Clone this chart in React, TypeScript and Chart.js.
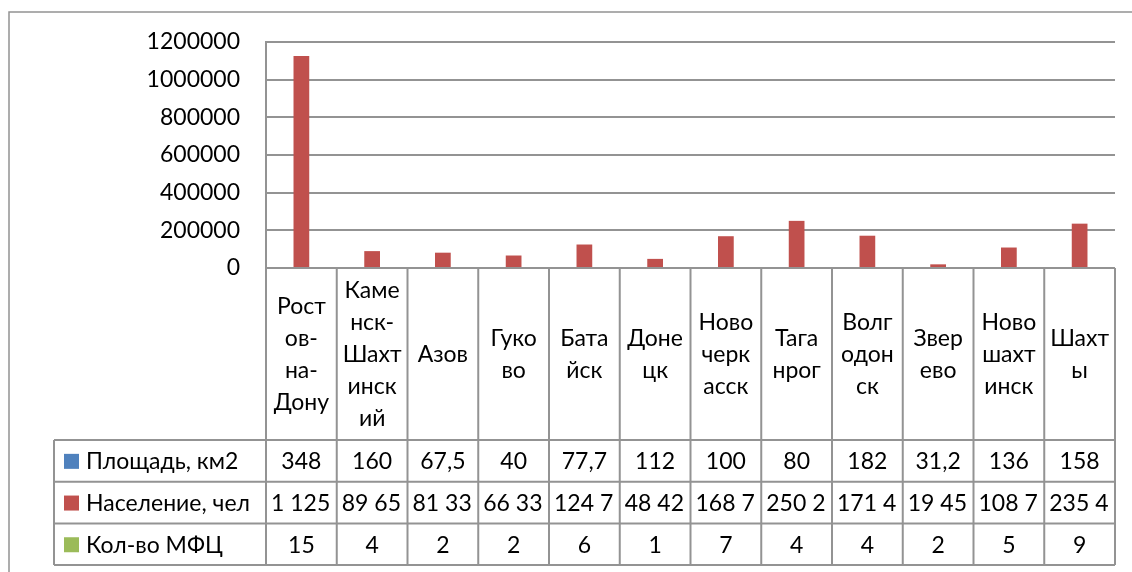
import React, { useEffect, useRef } from "react";
import { Chart, registerables } from "chart.js";

Chart.register(...registerables);

// ---- Data ----
const categories: string[][] = [
  ["Рост", "ов-", "на-", "Дону"],
  ["Каме", "нск-", "Шахт", "инск", "ий"],
  ["Азов"],
  ["Гуко", "во"],
  ["Бата", "йск"],
  ["Доне", "цк"],
  ["Ново", "черк", "асск"],
  ["Тага", "нрог"],
  ["Волг", "одон", "ск"],
  ["Звер", "ево"],
  ["Ново", "шахт", "инск"],
  ["Шахт", "ы"],
];

const seriesNames = ["Площадь, км2", "Население, чел", "Кол-во МФЦ"];

const areaKm2 = [348, 160, 67.5, 40, 77.7, 112, 100, 80, 182, 31.2, 136, 158];
const population = [
  1125299, 89652, 81334, 66335, 124710, 48423, 168766, 250287, 171434, 19451,
  108740, 235492,
];
const mfcCount = [15, 4, 2, 2, 6, 1, 7, 4, 4, 2, 5, 9];

const yMin = 0;
const yMax = 1200000;
const yStep = 200000;

const seriesColors = ["#4F81BD", "#C0504D", "#9BBB59"];

// ---- Styles ----
const FONT = "Lato";
const FONT_SIZE = 23;
const LINE_COLOR = "#939393";
const LINE_W = 2;
const HEADER_BOTTOM = 440;
const ROW_H = 41.7;
const TABLE_LEFT = 54;
const LINE_H = 32;

function fmt(v: number, seriesIdx: number): string {
  if (seriesIdx === 1) {
    const s = Math.round(v).toString();
    return s.replace(/\B(?=(\d{3})+(?!\d))/g, " ");
  }
  return String(v).replace(".", ",");
}

const tablePlugin = {
  id: "dataTable",
  afterDraw(chart: any) {
    const { ctx, chartArea, scales } = chart;
    const xs = scales.x;
    const n = categories.length;
    const left = chartArea.left;
    const right = chartArea.right;
    const cw = (right - left) / n;
    const headerTop = chartArea.bottom;
    const series = [areaKm2, population, mfcCount];
    const tableBottom = HEADER_BOTTOM + ROW_H * series.length;

    ctx.save();
    // outer chart border
    ctx.strokeStyle = LINE_COLOR;
    ctx.lineWidth = 1.5;
    ctx.beginPath();
    ctx.moveTo(9, 700);
    ctx.lineTo(9, 12);
    ctx.lineTo(1200, 12);
    ctx.stroke();

    // table lines
    ctx.lineWidth = LINE_W;
    ctx.beginPath();
    for (let i = 0; i <= n; i++) {
      const xx = left + i * cw;
      ctx.moveTo(xx, headerTop);
      ctx.lineTo(xx, tableBottom);
    }
    ctx.moveTo(TABLE_LEFT, HEADER_BOTTOM);
    ctx.lineTo(TABLE_LEFT, tableBottom);
    for (let r = 0; r <= series.length; r++) {
      const yy = HEADER_BOTTOM + r * ROW_H;
      ctx.moveTo(TABLE_LEFT, yy);
      ctx.lineTo(right, yy);
    }
    ctx.moveTo(left, headerTop);
    ctx.lineTo(right, headerTop);
    ctx.stroke();

    ctx.fillStyle = "#000";
    ctx.font = `${FONT_SIZE}px ${FONT}`;
    ctx.textBaseline = "middle";
    ctx.textAlign = "center";

    // header labels
    const headerMid = (headerTop + HEADER_BOTTOM) / 2;
    categories.forEach((lines, i) => {
      const cx = xs.getPixelForValue(i);
      const startY = headerMid - ((lines.length - 1) * LINE_H) / 2;
      lines.forEach((ln, k) => {
        ctx.fillText(ln, cx, startY + k * LINE_H + 1);
      });
    });

    // rows
    series.forEach((vals, r) => {
      const cy = HEADER_BOTTOM + r * ROW_H + ROW_H / 2 + 1;
      // legend key
      ctx.fillStyle = seriesColors[r];
      ctx.fillRect(64, cy - 8, 15, 15);
      ctx.fillStyle = "#000";
      ctx.textAlign = "left";
      ctx.fillText(seriesNames[r], 86, cy);
      vals.forEach((v, i) => {
        const cx = xs.getPixelForValue(i);
        const cellL = left + i * cw;
        const txt = fmt(v, r);
        const maxW = cw - 9;
        if (ctx.measureText(txt).width <= maxW) {
          ctx.textAlign = "center";
          ctx.fillText(txt, cx, cy);
        } else {
          let t = txt;
          while (t.length > 0 && ctx.measureText(t).width > maxW) t = t.slice(0, -1);
          ctx.textAlign = "left";
          ctx.fillText(t, cellL + 5, cy);
        }
      });
    });
    ctx.restore();
  },
};

export default function App() {
  const ref = useRef<HTMLCanvasElement | null>(null);

  useEffect(() => {
    if (!ref.current) return;
    Chart.defaults.font.family = FONT;
    Chart.defaults.font.size = FONT_SIZE;
    Chart.defaults.color = "#000";
    const chart = new Chart(ref.current, {
      type: "bar",
      data: {
        labels: categories,
        datasets: [areaKm2, population, mfcCount].map((d, i) => ({
          label: seriesNames[i],
          data: d,
          backgroundColor: seriesColors[i],
          borderWidth: 0,
          categoryPercentage: 0.667,
          barPercentage: 1,
        })),
      },
      options: {
        responsive: false,
        animation: false,
        events: [],
        layout: { padding: { left: 0, top: 42, right: 17, bottom: 304 } },
        plugins: { legend: { display: false }, tooltip: { enabled: false } },
        scales: {
          x: { display: false },
          y: {
            min: yMin,
            max: yMax,
            ticks: {
              stepSize: yStep,
              padding: 26,
              color: "#000",
              font: { family: FONT, size: FONT_SIZE },
              callback: (v: any) => String(v),
            },
            grid: { color: LINE_COLOR, lineWidth: LINE_W, drawTicks: false },
            border: { display: true, color: LINE_COLOR, width: LINE_W },
            afterFit: (scale: any) => {
              scale.width = 266;
            },
          },
        },
      },
      plugins: [tablePlugin],
    });
    return () => chart.destroy();
  }, []);

  return (
    <div style={{ position: "fixed", left: 0, top: 0, width: 1132, height: 572, background: "#fff" }}>
      <canvas ref={ref} width={1132} height={572} style={{ width: 1132, height: 572, display: "block" }} />
    </div>
  );
}
